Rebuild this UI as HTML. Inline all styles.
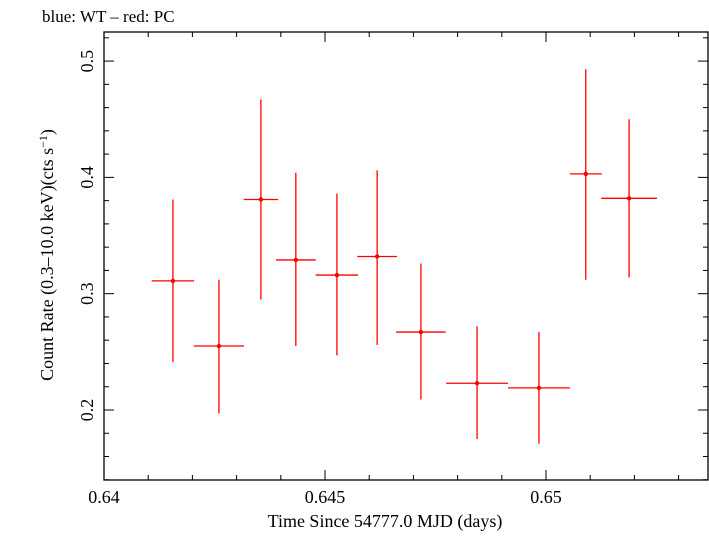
<!DOCTYPE html>
<html><head><meta charset="utf-8"><style>
body{margin:0;background:#fff}
svg text{font-family:"Liberation Serif",serif;fill:#000}
</style></head><body>
<svg id="chart" width="709" height="532" viewBox="0 0 709 532" xmlns="http://www.w3.org/2000/svg">
<text x="42" y="22" font-size="17">blue: WT – red: PC</text>
<rect x="104" y="32" width="604" height="448" fill="none" stroke="#000" stroke-width="1.3"/>
<g id="axes"></g>
<g id="series"></g>
<text x="385" y="527" font-size="18" text-anchor="middle">Time Since 54777.0 MJD (days)</text>
<text transform="translate(53,255) rotate(-90)" font-size="18" text-anchor="middle">Count Rate (0.3–10.0 keV)(cts s<tspan dy="-6" font-size="12">−1</tspan><tspan dy="6">)</tspan></text>
</svg>
<script>
const times=[0.64156,0.6426,0.64355,0.64434,0.64527,0.64618,0.64717,0.64844,0.64984,0.6509,0.65188];
const timeErr=[0.00048,0.00057,0.00039,0.00045,0.00048,0.00045,0.00056,0.0007,0.0007,0.00036,0.00063];
const rates=[0.311,0.255,0.381,0.329,0.316,0.332,0.267,0.223,0.219,0.403,0.382];
const rateHi=[0.381,0.312,0.467,0.404,0.386,0.406,0.326,0.272,0.267,0.493,0.450];
const rateLo=[0.241,0.197,0.295,0.255,0.247,0.256,0.209,0.175,0.171,0.312,0.314];
const xTicks=[0.64,0.645,0.65];
const xTickLabels=["0.64","0.645","0.65"];
const yTicks=[0.2,0.3,0.4,0.5];
const yTickLabels=["0.2","0.3","0.4","0.5"];
const NS="http://www.w3.org/2000/svg";
const L=104,R=708,T=32,B=480;
const xMin=0.64,xMax=0.64+(R-L)/44200;
const yMin=0.1398,yMax=0.525;
const X=v=>L+(v-xMin)/(xMax-xMin)*(R-L);
const Y=v=>B-(v-yMin)/(yMax-yMin)*(B-T);
const axes=document.getElementById('axes');
const ser=document.getElementById('series');
function mk(tag,attrs,parent){const e=document.createElementNS(NS,tag);for(const k in attrs)e.setAttribute(k,attrs[k]);parent.appendChild(e);return e;}
// minor/major x ticks
for(let i=0;;i++){const v=xMin+i*0.001;if(v>xMax+1e-9)break;const x=X(v);const major=i%5===0;const len=major?10:5;
 const t=mk('line',{x1:x,x2:x,y1:B,y2:B-len,stroke:'#000','stroke-width':1},axes);
 
 
 const t2=mk('line',{x1:x,x2:x,y1:T,y2:T+len,stroke:'#000','stroke-width':1},axes);
 
 }
xTicks.forEach((v,i)=>{const t=mk('text',{x:X(v),y:503,'font-size':18,'text-anchor':'middle'},axes);t.textContent=xTickLabels[i];
 
 });
for(let i=0;;i++){const v=0.14+i*0.02;if(v>yMax)break;const y=Y(v);const major=Math.abs(((v*10)%1))<1e-6||Math.abs(((v*10)%1)-1)<1e-6;const len=major?10:5;
 const t=mk('line',{x1:L,x2:L+len,y1:y,y2:y,stroke:'#000','stroke-width':1},axes);
 
 
 const t2=mk('line',{x1:R,x2:R-len,y1:y,y2:y,stroke:'#000','stroke-width':1},axes);
 
 }
yTicks.forEach((v,i)=>{const t=mk('text',{transform:`translate(93,${Y(v)}) rotate(-90)`,'font-size':18,'text-anchor':'middle'},axes);t.textContent=yTickLabels[i];
 
 });
times.forEach((t,i)=>{const g=mk('g',{},ser);
 
 
 mk('line',{x1:X(t-timeErr[i]),x2:X(t+timeErr[i]),y1:Y(rates[i]),y2:Y(rates[i]),stroke:'#f00','stroke-width':1.3},g);
 mk('line',{x1:X(t),x2:X(t),y1:Y(rateLo[i]),y2:Y(rateHi[i]),stroke:'#f00','stroke-width':1.3},g);
 mk('circle',{cx:X(t),cy:Y(rates[i]),r:2.2,fill:'#f00'},g);});
</script>
</body></html>
